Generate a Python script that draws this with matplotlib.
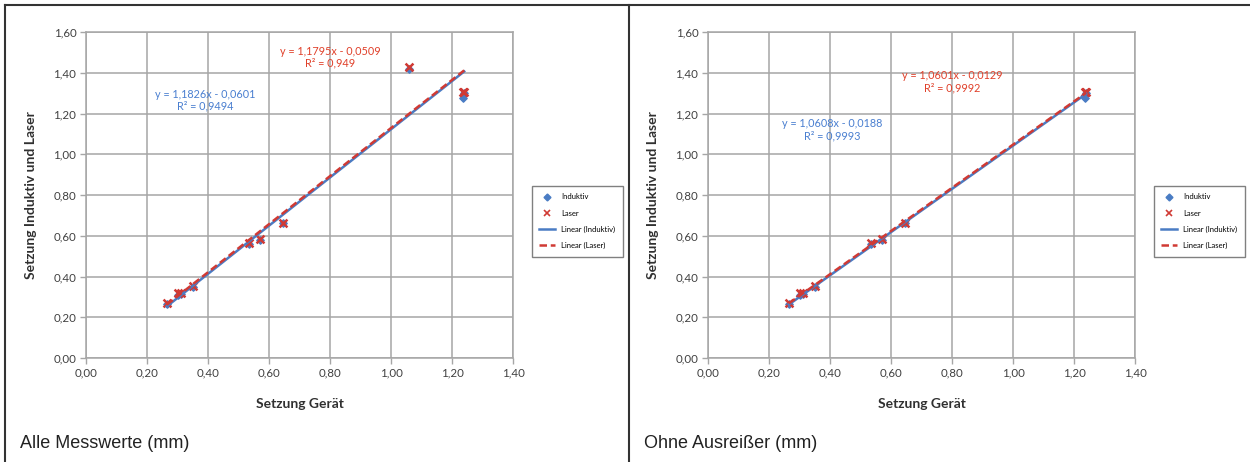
import numpy as np
import matplotlib
matplotlib.use("Agg")
import matplotlib.pyplot as plt
from matplotlib.lines import Line2D

# settlement readings (mm): device vs. inductive and laser sensors
geraet = [0.265, 0.30, 0.31, 0.35, 0.535, 0.57, 0.645, 1.06, 1.235, 1.24]
induktiv = [0.265, 0.31, 0.315, 0.35, 0.56, 0.58, 0.665, 1.42, 1.275, 1.30]
laser = [0.27, 0.32, 0.32, 0.355, 0.565, 0.585, 0.665, 1.43, 1.305, 1.305]
ausreisser = 7  # index of the outlier dropped in the second chart

# trendline coefficients (slope, intercept) and labels per panel
fit_alle = {"induktiv": (1.1826, -0.0601), "laser": (1.1795, -0.0509)}
fit_ohne = {"induktiv": (1.0608, -0.0188), "laser": (1.0601, -0.0129)}
r2_alle = {"induktiv": "0,9494", "laser": "0,949"}
r2_ohne = {"induktiv": "0,9993", "laser": "0,9992"}

ticks = [0.0, 0.2, 0.4, 0.6, 0.8, 1.0, 1.2, 1.4, 1.6]
tick_labels = ["0,00", "0,20", "0,40", "0,60", "0,80", "1,00", "1,20", "1,40", "1,60"]

BLUE = "#4a7cc4"
RED = "#d03a34"
TXT_BLUE = "#4a7fd0"
TXT_RED = "#e0402a"
GRID = "#a6a6a6"
FONT = "Lato"

def fmt(v):
    return f"{abs(v):.4f}".replace(".", ",")

def draw_panel(ax, xs, ind, las, fits, r2, pos_ind, pos_las):
    ax.set_xlim(0, 1.4)
    ax.set_ylim(0, 1.6)
    ax.set_xticks(ticks[:8])
    ax.set_xticklabels(tick_labels[:8], fontsize=8.3, family=FONT, color="#404040")
    ax.set_yticks(ticks)
    ax.set_yticklabels(tick_labels, fontsize=8.3, family=FONT, color="#404040")
    ax.tick_params(length=4, color=GRID, width=1.0, pad=3)
    ax.grid(True, color=GRID, linewidth=1.1)
    ax.set_axisbelow(True)
    for s in ax.spines.values():
        s.set_color(GRID)
        s.set_linewidth(1.1)

    xs = np.array(xs)
    ax.scatter(xs, ind, marker="D", s=14, color=BLUE, zorder=3)
    ax.scatter(xs, las, marker="x", s=32, color=RED, linewidths=1.8, zorder=4)

    xr = np.array([xs.min(), xs.max()])
    m, b = fits["induktiv"]
    ax.plot(xr, m * xr + b, color=BLUE, linewidth=1.8, zorder=5)
    m2, b2 = fits["laser"]
    ax.plot(xr, m2 * xr + b2, color=RED, linewidth=1.8, linestyle=(0, (3, 1.5)), zorder=6)

    ax.text(pos_ind[0], pos_ind[1],
            f"y = {fmt(m)}x - {fmt(b)}\nR² = {r2['induktiv']}",
            color=TXT_BLUE, fontsize=7.8, family=FONT, ha="center", va="center",
            linespacing=1.1)
    ax.text(pos_las[0], pos_las[1],
            f"y = {fmt(m2)}x - {fmt(b2)}\nR² = {r2['laser']}",
            color=TXT_RED, fontsize=7.8, family=FONT, ha="center", va="center",
            linespacing=1.1)

    ax.set_xlabel("Setzung Gerät", fontsize=10, fontweight="bold", family=FONT,
                  color="#303030", labelpad=14)
    ax.set_ylabel("Setzung Induktiv und Laser", fontsize=10, fontweight="bold",
                  family=FONT, color="#303030", labelpad=12)

    handles = [
        Line2D([], [], marker="D", linestyle="none", color=BLUE, markersize=3.5),
        Line2D([], [], marker="x", linestyle="none", color=RED, markersize=5, mew=1.2),
        Line2D([], [], color=BLUE, linewidth=1.8),
        Line2D([], [], color=RED, linewidth=1.8, linestyle=(0, (3, 1.5))),
    ]
    leg = ax.legend(handles, ["Induktiv", "Laser", "Linear (Induktiv)", "Linear (Laser)"],
                    loc="upper left", bbox_to_anchor=(1.035, 0.54),
                    frameon=True, fancybox=False, handlelength=2.0, labelspacing=1.2,
                    borderpad=1.0, handletextpad=0.8, prop={"family": FONT, "size": 5.5})
    leg.get_frame().set_edgecolor("#606060")
    leg.get_frame().set_linewidth(1.0)

fig = plt.figure(figsize=(12.5, 4.62), dpi=100)

ax1 = fig.add_axes([86 / 1250, 1 - 358 / 462, 427 / 1250, 326 / 462])
draw_panel(ax1, geraet, induktiv, laser, fit_alle, r2_alle, (0.39, 1.266), (0.80, 1.477))

keep = [i for i in range(len(geraet)) if i != ausreisser]
ax2 = fig.add_axes([708 / 1250, 1 - 358 / 462, 427 / 1250, 326 / 462])
draw_panel(ax2, [geraet[i] for i in keep], [induktiv[i] for i in keep],
           [laser[i] for i in keep], fit_ohne, r2_ohne, (0.407, 1.12), (0.80, 1.355))

# panel frames
frame = dict(color="#333333", linewidth=1.5, transform=fig.transFigure)
fig.add_artist(Line2D([5 / 1250, 1], [1 - 5 / 462, 1 - 5 / 462], **frame))
fig.add_artist(Line2D([5 / 1250, 5 / 1250], [0, 1 - 5 / 462], **frame))
fig.add_artist(Line2D([629 / 1250, 629 / 1250], [0, 1 - 5 / 462], **frame))

fig.text(20 / 1250, 1 - 443 / 462, "Alle Messwerte (mm)", fontsize=13,
         family="Liberation Sans", color="#222222", va="center")
fig.text(644 / 1250, 1 - 443 / 462, "Ohne Ausreißer (mm)", fontsize=13,
         family="Liberation Sans", color="#222222", va="center")

fig.savefig("out.png", dpi=100)
